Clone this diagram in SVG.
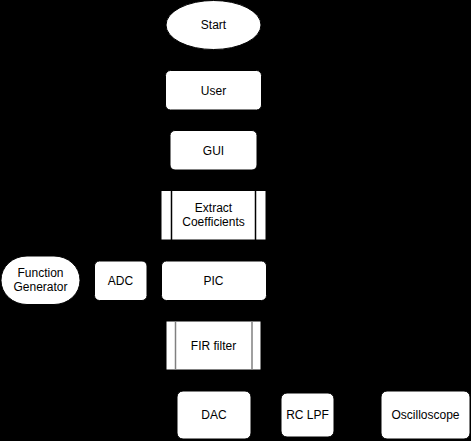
<svg xmlns="http://www.w3.org/2000/svg" width="471" height="441" viewBox="0 0 471 441">
<style>
.n{fill:#fff;stroke:#000;stroke-width:1}
.t{font-family:"Liberation Sans",Arial,sans-serif;font-size:12px;fill:#000;text-anchor:middle}
.bar{stroke:#000;stroke-width:1.5}
.gbar{stroke:#808080;stroke-width:1.5}
</style>
<rect width="471" height="441" fill="#000"/>
<g id="connectors"></g>
<g id="start"><ellipse class="n" cx="213.5" cy="25" rx="47.5" ry="24.5"/><text class="t" x="213.5" y="29">Start</text></g>
<g id="user"><rect class="n" x="165.5" y="70.5" width="96" height="39.5" rx="5"/><text class="t" x="213.5" y="94.5">User</text></g>
<g id="gui"><rect class="n" x="170" y="130.5" width="87" height="39.5" rx="5"/><text class="t" x="213.5" y="154.5">GUI</text></g>
<g id="extract"><rect class="n" x="161" y="190.5" width="105" height="49.5"/><line class="bar" x1="171.5" y1="190.5" x2="171.5" y2="240"/><line class="bar" x1="255.5" y1="190.5" x2="255.5" y2="240"/><text class="t" x="213.5" y="212">Extract</text><text class="t" x="213.5" y="226">Coefficients</text></g>
<g id="funcgen"><rect class="n" x="1" y="256" width="79" height="48.5" rx="26" ry="24"/><text class="t" x="40.5" y="277">Function</text><text class="t" x="40.5" y="291">Generator</text></g>
<g id="adc"><rect class="n" x="94.5" y="261" width="52.5" height="39.5" rx="5"/><text class="t" x="120.5" y="285">ADC</text></g>
<g id="pic"><rect class="n" x="161.5" y="261" width="105" height="39.5" rx="5"/><text class="t" x="213.5" y="285">PIC</text></g>
<g id="fir"><rect class="n" x="166" y="321" width="95" height="49"/><line class="gbar" x1="175.5" y1="321" x2="175.5" y2="370"/><line class="gbar" x1="252" y1="321" x2="252" y2="370"/><text class="t" x="213.5" y="350">FIR filter</text></g>
<g id="dac"><rect class="n" x="177" y="391" width="74" height="48" rx="6"/><text class="t" x="214" y="419">DAC</text></g>
<g id="rclpf"><rect class="n" x="281" y="393" width="53" height="44" rx="6"/><text class="t" x="307.5" y="419">RC LPF</text></g>
<g id="osc"><rect class="n" x="381" y="391" width="89" height="48" rx="6"/><text class="t" x="425.5" y="419">Oscilloscope</text></g>
</svg>
